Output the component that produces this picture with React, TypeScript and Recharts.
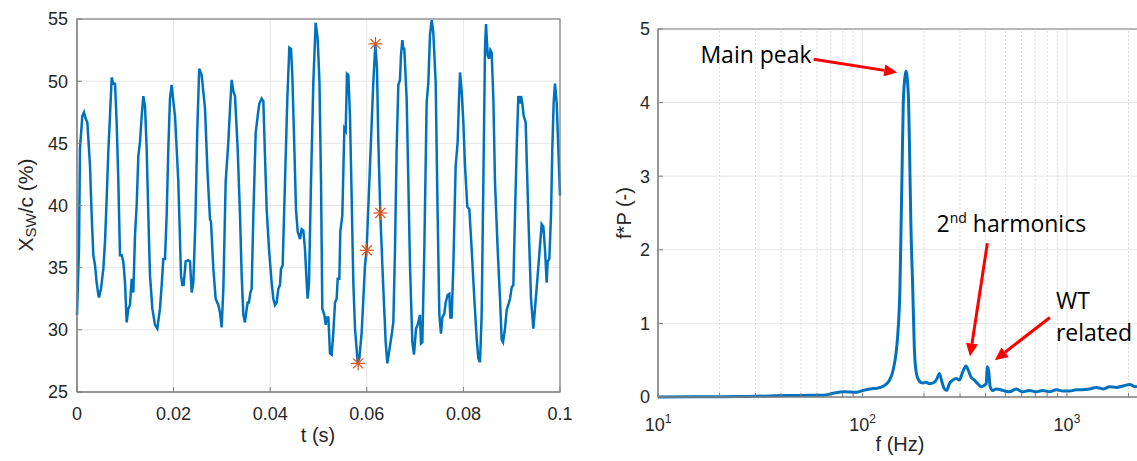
import React from "react";
import { LineChart, Line, XAxis, YAxis, CartesianGrid, ReferenceLine } from "recharts";

// left panel: shock-wave position X_SW/c (%) against time (ms)
const swTrace: [number, number][] = [
  [0, 31.2], [0.41, 36.5], [0.62, 44.6], [1.1, 47.2], [1.45, 47.5], [1.79, 47.0], [2.14, 46.7],
  [2.69, 43.2], [3.04, 39.2], [3.38, 36.0], [3.73, 35.2], [4.07, 33.8], [4.42, 32.8], [4.55, 32.6],
  [4.97, 33.3], [5.45, 34.9], [5.8, 37.1], [6.14, 40.5], [6.49, 44.4], [6.83, 47.2], [7.18, 50.3],
  [7.52, 49.8], [7.87, 49.8], [8.21, 46.7], [8.56, 41.9], [8.9, 36.0], [9.25, 36.0], [9.59, 35.5],
  [9.94, 33.8], [10.28, 30.6], [10.63, 31.7], [10.97, 32.0], [11.32, 34.1], [11.66, 33.0],
  [12.01, 37.6], [12.35, 40.0], [12.7, 44.0], [13.04, 45.1], [13.39, 47.2], [13.73, 48.8],
  [14.08, 48.0], [14.42, 44.6], [14.77, 39.2], [15.11, 34.4], [15.6, 31.7], [16.15, 30.4],
  [16.63, 30.1], [17.18, 31.7], [17.53, 33.6], [17.87, 35.7], [18.22, 35.7], [18.56, 39.2],
  [18.91, 44.6], [19.25, 48.6], [19.6, 49.7], [19.94, 48.4], [20.29, 47.2], [20.98, 41.9],
  [21.53, 34.4], [21.81, 33.6], [22.08, 33.6], [22.5, 35.5], [23.05, 35.6], [23.4, 35.5],
  [23.74, 33.0], [24.08, 33.8], [24.5, 38.5], [24.9, 46.0], [25.3, 51.0], [25.81, 50.5],
  [26.5, 47.8], [27.05, 42.4], [27.54, 38.9], [27.74, 38.7], [28.23, 34.9], [28.71, 32.5],
  [29.26, 32.0], [29.61, 31.4], [29.95, 30.2], [30.3, 33.3], [30.78, 41.9], [31.33, 45.1],
  [31.75, 48.3], [32.02, 50.1], [32.37, 49.2], [32.71, 48.8], [33.26, 44.6], [33.75, 39.2],
  [34.09, 34.4], [34.44, 31.2], [34.78, 30.6], [35.13, 31.7], [35.34, 32.2], [35.61, 32.2],
  [35.89, 33.0], [36.16, 33.3], [36.51, 39.2], [36.99, 45.8], [37.41, 47.2], [37.75, 48.2],
  [38.23, 48.6], [38.58, 48.4], [38.92, 44.0], [39.27, 39.7], [39.75, 36.5], [40.3, 33.8],
  [40.65, 32.5], [40.99, 32.0], [41.34, 32.2], [41.68, 33.3], [42.03, 33.6], [42.24, 34.9],
  [42.58, 35.2], [43.06, 41.9], [43.55, 48.6], [43.96, 52.7], [44.31, 52.6], [44.58, 50.5],
  [45.0, 44.6], [45.34, 39.7], [45.69, 37.9], [46.17, 37.3], [46.51, 38.1], [46.86, 38.0],
  [47.2, 36.5], [47.55, 33.8], [47.76, 32.5], [48.03, 33.8], [48.45, 41.9], [48.93, 49.9],
  [49.41, 54.7], [49.83, 53.4], [50.2, 49.9], [50.52, 41.9], [50.79, 31.7], [51.21, 31.2],
  [51.48, 30.4], [51.69, 31.0], [52.04, 31.0], [52.38, 28.1], [52.73, 28.0], [53.07, 29.8],
  [53.42, 32.2], [53.76, 32.5], [53.97, 34.1], [54.31, 34.1], [54.52, 37.9], [54.93, 39.2],
  [55.35, 46.2], [55.63, 46.0], [55.9, 50.6], [56.18, 50.5], [56.52, 47.2], [56.87, 40.5],
  [57.21, 33.8], [57.56, 30.1], [58.11, 27.4], [58.45, 27.7], [58.94, 29.8], [59.63, 35.2],
  [59.97, 36.5], [60.66, 43.2], [61.35, 49.9], [61.77, 53.0], [62.11, 51.0], [62.39, 45.1],
  [62.8, 39.3], [63.42, 33.3], [63.91, 29.0], [64.25, 27.3], [64.6, 28.2], [65.15, 29.6],
  [65.49, 30.6], [65.84, 36.5], [66.18, 44.6], [66.53, 49.7], [66.87, 50.1], [67.08, 52.1],
  [67.36, 53.3], [67.56, 52.6], [67.77, 52.6], [68.25, 48.6], [68.6, 41.9], [68.94, 35.2],
  [69.43, 29.0], [69.77, 28.0], [70.19, 30.1], [70.53, 30.4], [71.01, 31.2], [71.22, 28.9],
  [71.5, 29.0], [71.91, 36.5], [72.39, 48.3], [72.74, 49.9], [73.08, 53.7], [73.43, 54.9],
  [73.77, 53.9], [74.26, 49.9], [74.67, 39.2], [75.02, 31.2], [75.36, 29.7], [75.64, 31.0],
  [76.05, 31.3], [76.33, 32.2], [76.74, 32.8], [77.09, 32.9], [77.29, 31.0], [77.57, 31.0],
  [77.92, 35.2], [78.4, 43.2], [78.81, 45.1], [79.09, 48.6], [79.3, 50.7], [79.64, 49.2],
  [79.99, 46.7], [80.33, 43.2], [80.81, 39.9], [81.23, 39.7], [81.71, 36.5], [82.26, 32.5],
  [82.75, 29.3], [83.09, 27.7], [83.44, 27.4], [83.78, 31.2], [84.13, 41.9], [84.47, 52.6],
  [84.68, 54.6], [85.02, 52.1], [85.3, 51.8], [85.58, 52.5], [85.85, 52.3], [86.2, 48.6],
  [86.54, 41.9], [87.09, 36.5], [87.58, 32.5], [87.92, 29.2], [88.2, 29.0], [88.61, 30.1],
  [88.96, 31.6], [89.3, 32.0], [89.65, 32.5], [89.99, 33.4], [90.34, 33.6], [90.68, 39.2],
  [91.03, 44.6], [91.37, 48.8], [91.72, 48.2], [91.93, 48.8], [92.2, 48.2], [92.48, 47.2],
  [92.89, 46.7], [93.44, 39.2], [94.0, 32.5], [94.48, 30.1], [94.82, 31.7], [95.38, 34.4],
  [95.86, 36.8], [96.2, 38.5], [96.55, 38.3], [96.89, 36.5], [97.24, 33.8], [97.45, 35.5],
  [97.79, 35.7], [98.14, 39.2], [98.41, 44.6], [98.69, 48.3], [98.96, 49.8], [99.31, 48.3],
  [99.65, 44.6], [100, 40.8],
];
const swMarkers: [number, number][] = [[58.2, 27.3], [60.0, 36.4], [61.8, 53.0], [62.8, 39.4]];
const tTicks = [0, 20, 40, 60, 80, 100];
const xswTicks = [25, 30, 35, 40, 45, 50, 55];

// right panel: premultiplied spectrum f*P against f (Hz)
const spectrum: [number, number][] = [
  [10, 0.0], [15, 0.003], [21, 0.005], [30, 0.01], [44, 0.02], [55, 0.025], [64.6, 0.025],
  [72, 0.05], [81, 0.07], [94, 0.065], [101, 0.09], [109, 0.11], [118, 0.12], [127, 0.15],
  [135, 0.22], [141, 0.36], [148.5, 0.82], [152.5, 1.5], [154.3, 2.27], [156, 3.0],
  [158.3, 4.0], [161.5, 4.36], [163.3, 4.43], [165.1, 4.36], [168.1, 4.0], [170.5, 3.1],
  [172.6, 2.3], [176, 1.5], [179.2, 0.68], [182.6, 0.36], [188.2, 0.23], [197, 0.19],
  [204.5, 0.2], [212.3, 0.18], [224.6, 0.2], [231.5, 0.25], [237.7, 0.32], [244.9, 0.2],
  [251.5, 0.11], [258.2, 0.09], [266, 0.18], [276.3, 0.23], [286.8, 0.25], [297.8, 0.23],
  [309.2, 0.34], [321, 0.42], [329.6, 0.36], [339.6, 0.27], [352.7, 0.23], [366.2, 0.18],
  [380.2, 0.14], [394.8, 0.16], [402.3, 0.18], [408.4, 0.41], [414.6, 0.34], [420.9, 0.14],
  [433.8, 0.09], [450.4, 0.11], [485.7, 0.09], [523.6, 0.07], [564.5, 0.11], [608.5, 0.07],
  [656.2, 0.09], [707.4, 0.07], [762.6, 0.09], [822.2, 0.07], [886.5, 0.1], [955.9, 0.08],
  [1030.6, 0.08], [1111, 0.1], [1198, 0.1], [1291, 0.11], [1392, 0.13], [1501, 0.11],
  [1618, 0.14], [1745, 0.13], [1882, 0.15], [2028, 0.17], [2148, 0.14], [2200, 0.15],
];
const fDecades = [10, 100, 1000];
const fMinor = [20, 30, 40, 50, 60, 70, 80, 90, 200, 300, 400, 500, 600, 700, 800, 900, 2000];
const fpTicks = [0, 1, 2, 3, 4, 5];

// callouts (data coordinates of arrow tail / head)
const mainPeakArrow = [{ x: 57.7, y: 4.59 }, { x: 147.9, y: 4.41 }];
const harmonicArrow = [{ x: 408, y: 2.09 }, { x: 335.6, y: 0.55 }];
const wtArrow = [{ x: 825, y: 1.08 }, { x: 443.6, y: 0.5 }];

const blue = "#0072BD";
const orange = "#D95319";
const axisGrey = "#7f7f7f";
const gridGrey = "#e6e6e6";
const tickFont = { fill: "#262626", fontSize: 18, fontFamily: "'Liberation Sans', Arial, sans-serif" };
const noteFont = "'Open Sans', 'Noto Sans', sans-serif";

const swData = swTrace.map(([t, v]) => ({ t, v }));
const markerData = swMarkers.map(([t, v]) => ({ t, v }));
const specData = spectrum.map(([f, p]) => ({ f, p }));
const fAllTicks = [...fDecades, ...fMinor].sort((a, b) => a - b);

const Asterisk = (props: any) => {
  const { cx, cy, index } = props;
  if (cx == null || cy == null) return <g key={index} />;
  const r = 7;
  const d = r * 0.72;
  return (
    <g key={index} stroke={orange} strokeWidth={1.2}>
      <line x1={cx - r} y1={cy} x2={cx + r} y2={cy} />
      <line x1={cx} y1={cy - r} x2={cx} y2={cy + r} />
      <line x1={cx - d} y1={cy - d} x2={cx + d} y2={cy + d} />
      <line x1={cx - d} y1={cy + d} x2={cx + d} y2={cy - d} />
    </g>
  );
};

const DecadeTick = (props: any) => {
  const { x, y, payload } = props;
  const exp = Math.round(Math.log10(payload.value));
  if (Math.abs(Math.pow(10, exp) - payload.value) > 1e-6) return <g />;
  return (
    <text x={x} y={y + 12} textAnchor="middle" {...tickFont}>
      <tspan>10</tspan>
      <tspan dy={-8} fontSize={12}>{exp}</tspan>
    </text>
  );
};

const arrowShape = (note: (x: number, y: number) => React.ReactNode) => (props: any) => {
  const { x1, y1, x2, y2 } = props;
  const dx = x2 - x1;
  const dy = y2 - y1;
  const len = Math.hypot(dx, dy) || 1;
  const ux = dx / len;
  const uy = dy / len;
  const hl = 13;
  const hw = 6;
  const bx = x2 - ux * hl;
  const by = y2 - uy * hl;
  return (
    <g>
      <line x1={x1} y1={y1} x2={bx} y2={by} stroke="#ff0000" strokeWidth={3} />
      <polygon
        points={`${x2},${y2} ${bx - uy * hw},${by + ux * hw} ${bx + uy * hw},${by - ux * hw}`}
        fill="#ff0000"
      />
      {note(x1, y1)}
    </g>
  );
};

const App = () => {
  return (
    <div style={{ position: "absolute", left: 0, top: 0, width: 1137, height: 461, overflow: "hidden", background: "#fff" }}>
      <div style={{ position: "absolute", left: 0, top: 0 }}>
        <LineChart width={600} height={461} margin={{ top: 19, right: 40, left: 17, bottom: 0 }}>
          <CartesianGrid stroke={gridGrey} />
          <XAxis
            dataKey="t"
            type="number"
            domain={[0, 100]}
            ticks={tTicks}
            interval={0}
            tickFormatter={(v: number) => String(v / 1000)}
            height={69}
            tickSize={-5}
            tickMargin={20}
            tick={tickFont}
            stroke={axisGrey}
          />
          <YAxis
            type="number"
            domain={[25, 55]}
            ticks={xswTicks}
            interval={0}
            width={60}
            tickSize={-5}
            tickMargin={14}
            tick={tickFont}
            stroke={axisGrey}
          />
          <Line data={swData} dataKey="v" type="linear" stroke={blue} strokeWidth={2.5} dot={false}
            activeDot={false} isAnimationActive={false} />
          <Line data={markerData} dataKey="v" stroke="none" dot={Asterisk} activeDot={false}
            isAnimationActive={false} />
        </LineChart>
      </div>

      <div style={{ position: "absolute", left: 560, top: 0 }}>
        <LineChart width={577} height={461} margin={{ top: 29, right: 0, left: 38, bottom: 0 }}>
          <CartesianGrid stroke={gridGrey} vertical={false} />
          {fMinor.map((f) => (
            <ReferenceLine key={"m" + f} x={f} stroke="#dcdcdc" strokeDasharray="2 2" />
          ))}
          {fDecades.slice(1).map((f) => (
            <ReferenceLine key={"d" + f} x={f} stroke={gridGrey} />
          ))}
          <XAxis
            dataKey="f"
            type="number"
            scale="log"
            domain={[10, 2200]}
            allowDataOverflow
            ticks={fAllTicks}
            interval={0}
            height={64}
            tickSize={-4}
            tickMargin={26}
            tick={<DecadeTick />}
            stroke={axisGrey}
          />
          <YAxis
            type="number"
            domain={[0, 5]}
            ticks={fpTicks}
            interval={0}
            width={60}
            tickSize={-5}
            tickMargin={13}
            tick={tickFont}
            stroke={axisGrey}
          />
          <Line data={specData} dataKey="p" type="monotone" stroke={blue} strokeWidth={3} dot={false}
            activeDot={false} isAnimationActive={false} />
          <ReferenceLine
            segment={mainPeakArrow}
            shape={arrowShape((x, y) => (
              <text x={x - 2} y={y + 4} textAnchor="end" fontSize={23} fontFamily={noteFont} fill="#000">
                Main peak
              </text>
            ))}
          />
          <ReferenceLine
            segment={harmonicArrow}
            shape={arrowShape((x, y) => (
              <text x={x + 24} y={y - 11} textAnchor="middle" fontSize={23} fontFamily={noteFont} fill="#000">
                2<tspan dy={-9} fontSize={14}>nd</tspan>
                <tspan dy={9}> harmonics</tspan>
              </text>
            ))}
          />
          <ReferenceLine
            segment={wtArrow}
            shape={arrowShape((x, y) => (
              <text x={x + 6} y={y - 9} textAnchor="start" fontSize={23} fontFamily={noteFont} fill="#000">
                <tspan x={x + 6}>WT</tspan>
                <tspan x={x + 6} dy={32}>related</tspan>
              </text>
            ))}
          />
        </LineChart>
      </div>

      <svg width={1137} height={461} style={{ position: "absolute", left: 0, top: 0, pointerEvents: "none" }}>
        {/* axes boxes: plot areas set by the chart margins above */}
        <rect x={77} y={19} width={483} height={373} fill="none" stroke={axisGrey} strokeWidth={1.2} />
        <polyline points="1137,29 658,29 658,397 1137,397" fill="none" stroke={axisGrey} strokeWidth={1.2} />
        <g fontFamily="'Liberation Sans', Arial, sans-serif" fill="#262626" fontSize={21}>
          <text x={25} y={205} transform="rotate(-90 25 205)" textAnchor="middle" dominantBaseline="central">
            X<tspan dy={5} fontSize={15}>SW</tspan>
            <tspan dy={-5}>/c (%)</tspan>
          </text>
          <text x={318} y={435} textAnchor="middle" dominantBaseline="central" fontSize={20}>t (s)</text>
          <text x={624} y={213} transform="rotate(-90 624 213)" textAnchor="middle" dominantBaseline="central" fontSize={20}>
            f*P (-)
          </text>
          <text x={900} y={444} textAnchor="middle" dominantBaseline="central" fontSize={20}>f (Hz)</text>
        </g>
      </svg>
    </div>
  );
};

export default App;
